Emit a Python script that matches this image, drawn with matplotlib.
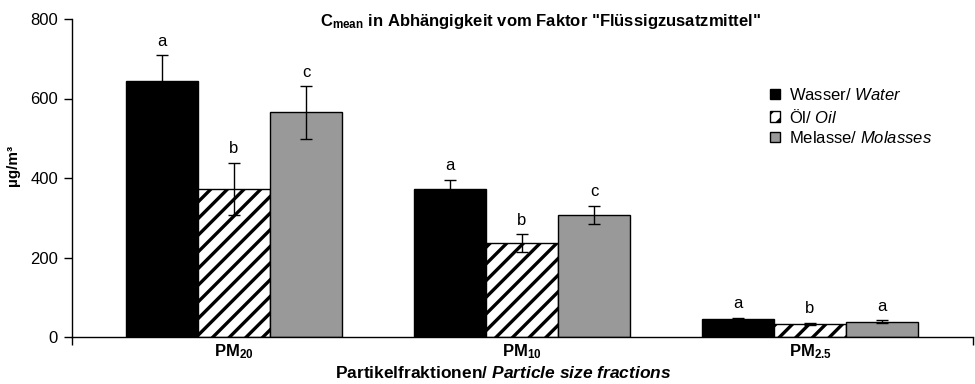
import numpy as np
import matplotlib.pyplot as plt

plt.rcParams['font.family'] = 'Liberation Sans'
plt.rcParams['mathtext.fontset'] = 'custom'
plt.rcParams['mathtext.rm'] = 'Liberation Sans'
plt.rcParams['mathtext.it'] = 'Liberation Sans:italic'
plt.rcParams['mathtext.bf'] = 'Liberation Sans:bold'
plt.rcParams['mathtext.bfit'] = 'Liberation Sans:bold:italic'
plt.rcParams['hatch.linewidth'] = 2.4

fractions = [r'$\mathbf{PM_{20}}$', r'$\mathbf{PM_{10}}$', r'$\mathbf{PM_{2.5}}$']
series = ['Wasser/ $\\mathit{Water}$', '\u00d6l/ $\\mathit{Oil}$', 'Melasse/ $\\mathit{Molasses}$']

wasser = [644, 372, 45]
oel = [372, 236, 33]
melasse = [565, 307, 38]
wasser_err = [65, 23, 3]
oel_err = [66, 22, 3]
melasse_err = [66, 23, 4]
letters = [['a', 'a', 'a'], ['b', 'b', 'b'], ['c', 'c', 'a']]

values = [wasser, oel, melasse]
errors = [wasser_err, oel_err, melasse_err]
faces = ['black', 'white', '#999999']
hatches = [None, '//', None]

fig = plt.figure(figsize=(9.75, 3.84), dpi=100)
ax = fig.add_axes([72 / 975, 47 / 384, 901 / 975, 318 / 384])

x = np.arange(len(fractions))
w = 0.25
for i in range(3):
    pos = x + (i - 1) * w
    ax.bar(pos, values[i], w, color=faces[i], edgecolor='black', linewidth=1,
           hatch=hatches[i], label=series[i], zorder=2)
    ax.errorbar(pos, values[i], yerr=errors[i], fmt='none', ecolor='black',
                elinewidth=1, capsize=4, capthick=1, zorder=3)
    for j in range(3):
        ax.text(pos[j], values[i][j] + errors[i][j] + 24, letters[i][j],
                ha='center', va='baseline', fontsize=12)

ax.set_xlim(-0.5625, 2.566)
ax.set_ylim(0, 800)
ax.set_yticks([0, 200, 400, 600, 800])
ax.tick_params(axis='y', direction='out', length=6, width=1, labelsize=12, pad=4)
ax.set_xticks(x)
ax.set_xticklabels(fractions, fontsize=12)
ax.tick_params(axis='x', length=0, pad=4)
ax.set_xticks([-0.5625, 2.566], minor=True)
ax.tick_params(axis='x', which='minor', direction='out', length=6, width=1)

for s in ['top', 'right']:
    ax.spines[s].set_visible(False)
for s in ['left', 'bottom']:
    ax.spines[s].set_linewidth(1)

ax.set_ylabel('\u00b5g/m\u00b3', fontsize=11, fontweight='bold')
ax.yaxis.set_label_coords(-0.058, 0.54)

fig.text(0.554, 0.943,
         '$\\mathbf{C_{mean}}$ in Abh\u00e4ngigkeit vom Faktor "Fl\u00fcssigzusatzmittel"',
         ha='center', va='center', fontsize=12, fontweight='bold')
fig.text(0.516, 0.029, r'Partikelfraktionen/ $\mathbfit{Particle\ size\ fractions}$',
         ha='center', va='center', fontsize=12.5, fontweight='bold')

leg = ax.legend(loc='upper left', bbox_to_anchor=(0.775, 0.786), frameon=False,
                fontsize=12, handlelength=0.6, handleheight=0.6, borderpad=0,
                borderaxespad=0, handletextpad=0.5, labelspacing=0.27)

fig.savefig('out.png', dpi=100)
